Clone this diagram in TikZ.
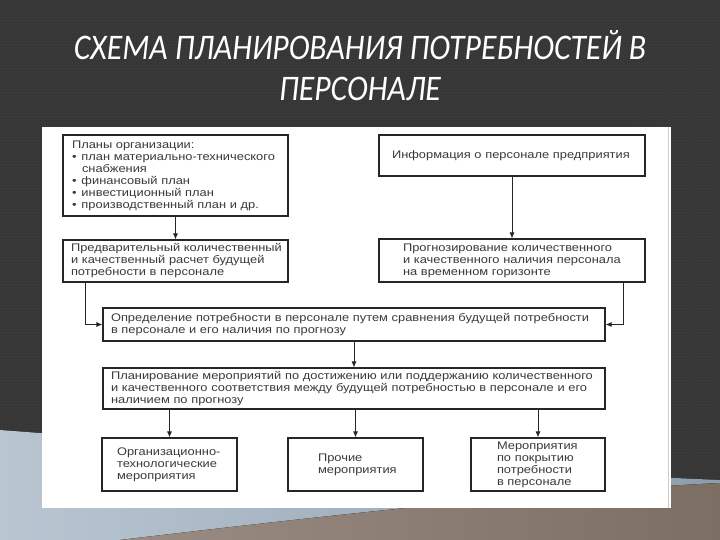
\documentclass[tikz,border=0pt]{standalone}
\usepackage{fontspec}
\setmainfont{Liberation Sans}[FakeStretch=1.17]
\newfontfamily\titlefont{Carlito}[FakeStretch=0.88]
\usetikzlibrary{patterns,arrows.meta}
\definecolor{bgdark}{HTML}{363636}
\definecolor{bgdot}{HTML}{505050}
\definecolor{swlight}{HTML}{B9C6D2}
\definecolor{swmid}{HTML}{8E9DAC}
\definecolor{swbrown}{HTML}{7D6E64}
\definecolor{swbrownl}{HTML}{9A8C82}
\definecolor{boxtxt}{HTML}{3A3A3A}
\begin{document}
\begin{tikzpicture}[x=1pt,y=-1pt,
  box/.style={draw=black!85, line width=1.1pt, fill=white, shape=rectangle,
    font=\fontsize{11}{12}\selectfont, text=boxtxt, align=left, inner ysep=0pt},
  arr/.style={-{Latex[length=6pt,width=5pt]}, line width=0.9pt, draw=black!85}]
\useasboundingbox (0,0) rectangle (720,540);
% background
\fill[bgdark] (0,0) rectangle (720,540);
\fill[pattern=dots, pattern color=bgdot] (0,0) rectangle (720,540);
% swoosh
\fill[left color=swlight, right color=swmid] (0,430) .. controls (200,445) and (480,470) .. (720,480) -- (720,540) -- (0,540) -- cycle;
\fill[left color=swbrownl, right color=swbrown] (120,540) .. controls (330,515) and (540,492) .. (720,483) -- (720,540) -- cycle;
% white panel
\fill[white] (42,127) rectangle (671,508);
\draw[black!20, line width=0.8pt] (668,127) -- (668,508);
% title
\node[font=\titlefont\itshape\fontsize{36}{41}\selectfont, text=white, align=center] (title) at (360,66)
  {СХЕМА ПЛАНИРОВАНИЯ ПОТРЕБНОСТЕЙ В\\ПЕРСОНАЛЕ};
% boxes
\node[box, minimum width=225pt, minimum height=81pt, text width=207pt, inner xsep=9pt] (b1) at (175.5,175.5)
  {Планы организации:\\
   \textbullet\hspace{5pt}план материально-технического\\
   \hspace{10pt}снабжения\\
   \textbullet\hspace{5pt}финансовый план\\
   \textbullet\hspace{5pt}инвестиционный план\\
   \textbullet\hspace{5pt}производственный план и др.};
\node[box, minimum width=225pt, minimum height=42pt, text width=219pt, inner xsep=3pt] (b2) at (175.5,261)
  {\hspace{5pt}Предварительный количественный\\\hspace{5pt}и качественный расчет будущей\\\hspace{5pt}потребности в персонале};
\node[box, minimum width=266pt, minimum height=41pt, text width=240pt, inner xsep=13pt] (b3) at (512,155.5)
  {Информация о персонале предприятия};
\node[box, minimum width=266pt, minimum height=43pt, text width=230pt, inner xsep=18pt] (b4) at (512,260.5)
  {\hspace{6pt}Прогнозирование количественного\\\hspace{6pt}и качественного наличия персонала\\\hspace{6pt}на временном горизонте};
\node[box, minimum width=502pt, minimum height=33pt, text width=486pt, inner xsep=8pt] (b5) at (354,324.5)
  {Определение потребности в персонале путем сравнения будущей потребности\\в персонале и его наличия по прогнозу};
\node[box, minimum width=502pt, minimum height=41pt, text width=486pt, inner xsep=8pt] (b6) at (354,388.5)
  {Планирование мероприятий по достижению или поддержанию количественного\\и качественного соответствия между будущей потребностью в персонале и его\\наличием по прогнозу};
\node[box, minimum width=135pt, minimum height=53pt, text width=113pt, inner xsep=11pt] (b7) at (169.5,464.5)
  {\hspace{4pt}Организационно-\\\hspace{4pt}технологические\\\hspace{4pt}мероприятия};
\node[box, minimum width=135pt, minimum height=53pt, text width=75pt, inner xsep=30pt] (b8) at (355.5,464.5)
  {Прочие\\мероприятия};
\node[box, minimum width=134pt, minimum height=53pt, text width=82pt, inner xsep=26pt] (b9) at (538,464.5)
  {Мероприятия\\по покрытию\\потребности\\в персонале};
% connectors
\draw[arr] (b1.south) -- (b2.north);
\draw[arr] (b3.south) -- (b4.north);
\draw[arr] ([xshift=-90.5pt]b2.south) |- (b5.west);
\draw[arr] ([xshift=111pt]b4.south) |- (b5.east);
\draw[arr] (b5.south) -- (b6.north);
\draw[arr] (b6.south -| b7.north) -- (b7.north);
\draw[arr] (b6.south -| b8.north) -- (b8.north);
\draw[arr] (b6.south -| b9.north) -- (b9.north);
\end{tikzpicture}
\end{document}
